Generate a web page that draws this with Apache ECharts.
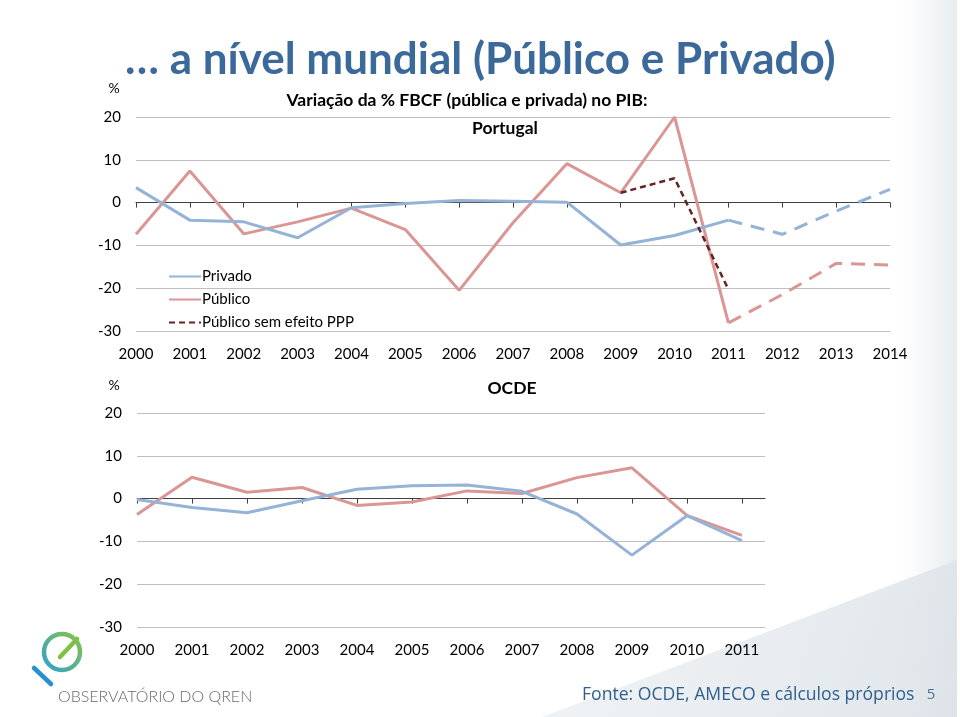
<!DOCTYPE html>
<html>
<head>
<meta charset="utf-8">
<script src="https://cdn.jsdelivr.net/npm/echarts@6/dist/echarts.min.js"></script>
<style>
html,body{margin:0;padding:0;background:#fff;}
#c{width:960px;height:717px;}
</style>
</head>
<body>
<div id="c"></div>
<script>
// ---- Data ----
var ptYears = ['2000','2001','2002','2003','2004','2005','2006','2007','2008','2009','2010','2011','2012','2013','2014'];
var ptPrivado = [3.5, -4.1, -4.5, -8.2, -1.2, -0.2, 0.5, 0.3, 0.1, -9.9, -7.7, -4.1, -7.4, -2.0, 3.1];
var ptPublico = [-7.4, 7.4, -7.3, -4.5, -1.3, -6.3, -20.5, -4.7, 9.1, 2.3, 20.0, -28.1, -21.5, -14.2, -14.6];
var ptPublicoSemPPP = [null, null, null, null, null, null, null, null, null, 2.3, 5.7, -20.3, null, null, null];
var ptLastActualIndex = 11; // 2011: projections (dashed) after this

var oeYears = [2000, 2001, 2002, 2003, 2004, 2005, 2006, 2007, 2008, 2009, 2010, 2011];
var oePrivado = [-0.2, -2.1, -3.3, -0.5, 2.2, 3.0, 3.2, 1.7, -3.6, -13.2, -4.0, -9.8];
var oePublico = [-3.7, 5.0, 1.5, 2.6, -1.6, -0.8, 1.8, 1.2, 4.9, 7.2, -3.9, -8.6];

var yTicks = {min: -30, max: 20, interval: 10};

// ---- helpers ----
function solidPart(arr){ return arr.map(function(v,i){ return i <= ptLastActualIndex ? v : null; }); }
function dashPart(arr){ return arr.map(function(v,i){ return i >= ptLastActualIndex ? v : null; }); }
function pairs(xs, ys){ return xs.map(function(x,i){ return [x, ys[i]]; }); }

var BLUE = '#95B3D7', RED = '#D99694', DARK = '#632523';
var TXT = 'Lato, "Open Sans", sans-serif';

var chart = echarts.init(document.getElementById('c'));

var yAxisCommon = {
  type: 'value', min: yTicks.min, max: yTicks.max, interval: yTicks.interval,
  axisLine: {show: false}, axisTick: {show: false},
  axisLabel: {color: '#000', fontSize: 15, fontFamily: TXT, margin: 15},
  splitLine: {lineStyle: {color: '#BFBFBF', width: 1}}
};

var option = {
  backgroundColor: '#ffffff',
  animation: false,
  grid: [
    {left: 136, width: 754, top: 117, height: 214},
    {left: 137, width: 628, top: 413, height: 214}
  ],
  xAxis: [
    {gridIndex: 0, type: 'category', data: ptYears, boundaryGap: false,
     axisLine: {onZero: true, lineStyle: {color: '#404040', width: 1}},
     axisTick: {show: true, length: 5, lineStyle: {color: '#404040'}},
     axisLabel: {show: false}, splitLine: {show: false}},
    {gridIndex: 0, type: 'category', data: ptYears, boundaryGap: false, position: 'bottom',
     axisLine: {show: false, onZero: false}, axisTick: {show: false},
     axisLabel: {color: '#000', fontSize: 15, fontFamily: TXT, margin: 16, interval: 0},
     splitLine: {show: false}},
    {gridIndex: 1, type: 'value', min: 2000, max: 2011.42, interval: 1,
     axisLine: {onZero: true, lineStyle: {color: '#404040', width: 1}},
     axisTick: {show: true, length: 5, lineStyle: {color: '#404040'}, customValues: oeYears},
     axisLabel: {show: false}, splitLine: {show: false}},
    {gridIndex: 1, type: 'value', min: 2000, max: 2011.42, interval: 1, position: 'bottom',
     axisLine: {show: false, onZero: false}, axisTick: {show: false},
     axisLabel: {color: '#000', fontSize: 15, fontFamily: TXT, margin: 16, customValues: oeYears,
                 formatter: function(v){ return String(v); }},
     splitLine: {show: false}}
  ],
  yAxis: [
    Object.assign({gridIndex: 0}, yAxisCommon),
    Object.assign({gridIndex: 1}, yAxisCommon)
  ],
  legend: {
    orient: 'vertical', left: 163, top: 264,
    itemWidth: 32, itemHeight: 14, itemGap: 8,
    itemStyle: {opacity: 0},
    textStyle: {color: '#000', fontSize: 15, fontFamily: TXT, padding: [0,0,0,-4]},
    data: ['Privado', 'Público', 'Público sem efeito PPP']
  },
  series: [
    {name: 'Privado', type: 'line', xAxisIndex: 0, yAxisIndex: 0, data: solidPart(ptPrivado),
     symbol: 'none', lineStyle: {color: BLUE, width: 3}, itemStyle: {color: BLUE}, z: 3},
    {name: 'Privado', type: 'line', xAxisIndex: 0, yAxisIndex: 0, data: dashPart(ptPrivado),
     symbol: 'none', lineStyle: {color: BLUE, width: 3, type: [14, 9]}, itemStyle: {color: BLUE}, z: 3},
    {name: 'Público', type: 'line', xAxisIndex: 0, yAxisIndex: 0, data: solidPart(ptPublico),
     symbol: 'none', lineStyle: {color: RED, width: 3}, itemStyle: {color: RED}, z: 2},
    {name: 'Público', type: 'line', xAxisIndex: 0, yAxisIndex: 0, data: dashPart(ptPublico),
     symbol: 'none', lineStyle: {color: RED, width: 3, type: [14, 9]}, itemStyle: {color: RED}, z: 2},
    {name: 'Público sem efeito PPP', type: 'line', xAxisIndex: 0, yAxisIndex: 0, data: ptPublicoSemPPP,
     symbol: 'none', lineStyle: {color: DARK, width: 2.5, type: [6, 4]}, itemStyle: {color: DARK}, z: 4},
    {name: 'OCDE Privado', type: 'line', xAxisIndex: 2, yAxisIndex: 1, data: pairs(oeYears, oePrivado),
     symbol: 'none', lineStyle: {color: BLUE, width: 3}, itemStyle: {color: BLUE}, z: 3},
    {name: 'OCDE Público', type: 'line', xAxisIndex: 2, yAxisIndex: 1, data: pairs(oeYears, oePublico),
     symbol: 'none', lineStyle: {color: RED, width: 3}, itemStyle: {color: RED}, z: 2}
  ],
  graphic: [
    // subtle background shading
    {type: 'rect', shape: {x: 900, y: 0, width: 57, height: 717}, z: -10, silent: true,
     style: {fill: new echarts.graphic.LinearGradient(0, 0, 1, 0, [{offset: 0, color: 'rgba(232,236,240,0)'}, {offset: 1, color: 'rgba(226,231,235,0.8)'}])}},
    {type: 'polygon', shape: {points: [[957, 560], [957, 717], [542, 717]]}, z: -9, silent: true,
     style: {fill: new echarts.graphic.LinearGradient(0, 0, 1, 1, [{offset: 0, color: 'rgba(228,233,237,0.5)'}, {offset: 1, color: 'rgba(220,227,232,0.9)'}])}},
    // headline
    {type: 'text', x: 125, y: 60, z: 10,
     style: {text: '… a nível mundial (Público e Privado)', fill: '#3B6A9A', font: 'bold 44px ' + TXT, verticalAlign: 'middle'}},
    // top chart title
    {type: 'text', x: 467, y: 100, z: 10,
     style: {text: 'Variação da % FBCF (pública e privada) no PIB:', fill: '#000', font: 'bold 17.5px ' + TXT, align: 'center', verticalAlign: 'middle'}},
    {type: 'text', x: 505, y: 128, z: 10,
     style: {text: 'Portugal', fill: '#000', font: 'bold 17.5px ' + TXT, align: 'center', verticalAlign: 'middle'}},
    {type: 'text', x: 512, y: 388, z: 10,
     style: {text: 'OCDE', fill: '#000', font: 'bold 17.5px ' + TXT, align: 'center', verticalAlign: 'middle'}},
    {type: 'text', x: 114, y: 88, z: 10,
     style: {text: '%', fill: '#000', font: '14px ' + TXT, align: 'center', verticalAlign: 'middle'}},
    {type: 'text', x: 114, y: 385, z: 10,
     style: {text: '%', fill: '#000', font: '14px ' + TXT, align: 'center', verticalAlign: 'middle'}},
    // logo
    {type: 'circle', shape: {cx: 62, cy: 652, r: 18}, z: 10,
     style: {fill: 'none', lineWidth: 4.5,
       stroke: new echarts.graphic.LinearGradient(0, 1, 1, 0, [{offset: 0, color: '#2A9FD6'}, {offset: 1, color: '#8CC63F'}])}},
    {type: 'line', shape: {x1: 60, y1: 657, x2: 77, y2: 639}, z: 10,
     style: {stroke: '#7DC243', lineWidth: 4.5, lineCap: 'round'}},
    {type: 'line', shape: {x1: 34, y1: 668, x2: 51, y2: 684}, z: 10,
     style: {stroke: '#2A8FD0', lineWidth: 4.5, lineCap: 'round'}},
    {type: 'text', x: 58, y: 697, z: 10,
     style: {text: 'OBSERVATÓRIO DO QREN', fill: '#6B6B6B', font: '300 16px ' + TXT, verticalAlign: 'middle'}},
    // footer
    {type: 'text', x: 582, y: 695, z: 10,
     style: {text: 'Fonte: OCDE, AMECO e cálculos próprios', fill: '#2F5F8F', font: '17.6px "Open Sans", sans-serif', verticalAlign: 'middle'}},
    {type: 'text', x: 931, y: 695, z: 10,
     style: {text: '5', fill: '#4F7397', font: '15px "Open Sans", sans-serif', align: 'center', verticalAlign: 'middle'}}
  ]
};
chart.setOption(option);
</script>
</body>
</html>
